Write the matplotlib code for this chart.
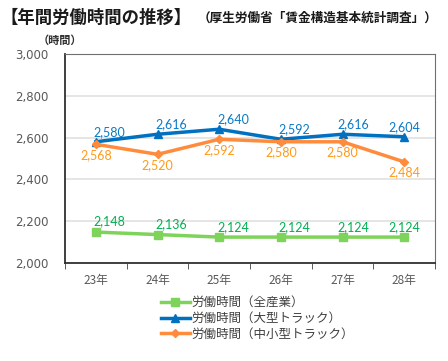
import matplotlib.pyplot as plt

plt.rcParams['font.family'] = ['Noto Sans CJK JP', 'DejaVu Sans']

years = ["23年", "24年", "25年", "26年", "27年", "28年"]
all_ind = [2148, 2136, 2124, 2124, 2124, 2124]
large = [2580, 2616, 2640, 2592, 2616, 2604]
small = [2568, 2520, 2592, 2580, 2580, 2484]
names = ["労働時間（全産業）", "労働時間（大型トラック）", "労働時間（中小型トラック）"]

fig = plt.figure(figsize=(4.48, 3.61), dpi=100)
ax = fig.add_axes([65/448, 1-263/361, 370/448, 209/361])

x = range(len(years))
ax.plot(x, all_ind, color="#7ED35A", lw=2.5, marker="s", ms=6, label=names[0])
ax.plot(x, large, color="#0070C0", lw=2.5, marker="^", ms=6, label=names[1])
ax.plot(x, small, color="#FF8C3C", lw=2.5, marker="D", ms=4.5, label=names[2])

# label horizontal shift (points): last column centred, others to the right
dx = [10, 10, 10, 10, 8, 0]
for i in x:
    ax.annotate(f"{all_ind[i]:,}", (i, all_ind[i]), xytext=(dx[i], 7.5), textcoords="offset points",
                ha="center", va="center", fontsize=9, color="#00B050", family="Lato")
    ax.annotate(f"{large[i]:,}", (i, large[i]), xytext=(dx[i], 7), textcoords="offset points",
                ha="center", va="center", fontsize=9, color="#0A7AC8", family="Lato")
    ax.annotate(f"{small[i]:,}", (i, small[i]), xytext=(0, -7.5), textcoords="offset points",
                ha="center", va="center", fontsize=9, color="#FF9A1A", family="Lato")

ax.set_xlim(-0.5, 5.5)
ax.set_ylim(2000, 3000)
ax.set_yticks(range(2000, 3001, 200))
ax.set_yticklabels([f"{v:,}" for v in range(2000, 3001, 200)], fontsize=8.5, color="#595959",
                   family="DejaVu Sans")
ax.set_xticks(list(x))
ax.set_xticklabels(years, fontsize=8.5, color="#595959")
ax.set_xticks([i - 0.5 for i in range(7)], minor=True)
ax.tick_params(axis="x", which="major", length=0, pad=8)
ax.tick_params(axis="x", which="minor", length=4, color="#404040")
ax.tick_params(axis="y", length=0, pad=12)
ax.grid(axis="y", color="#E0E0E0", lw=1.2)
ax.set_axisbelow(True)
for s in ["top", "right"]:
    ax.spines[s].set_color("#707070")
for s in ["left", "bottom"]:
    ax.spines[s].set_color("#303030")
    ax.spines[s].set_linewidth(1.3)

ax.legend(loc="upper center", bbox_to_anchor=(0.52, -0.105), frameon=False, fontsize=9,
          handlelength=2.3, handletextpad=0.15, labelspacing=0.22, labelcolor="#404040")

fig.text(1/448, 1-18/361, "【年間労働時間の推移】", fontsize=12.5, fontweight="bold",
         color="#1a1a1a", va="center")
fig.text(198/448, 1-18/361, "（厚生労働省「賃金構造基本統計調査」）", fontsize=9.1,
         fontweight="bold", color="#1a1a1a", va="center")
fig.text(38/448, 1-40/361, "（時間）", fontsize=8, fontweight="bold", color="#303030", va="center")

fig.savefig("out.png", dpi=100)
